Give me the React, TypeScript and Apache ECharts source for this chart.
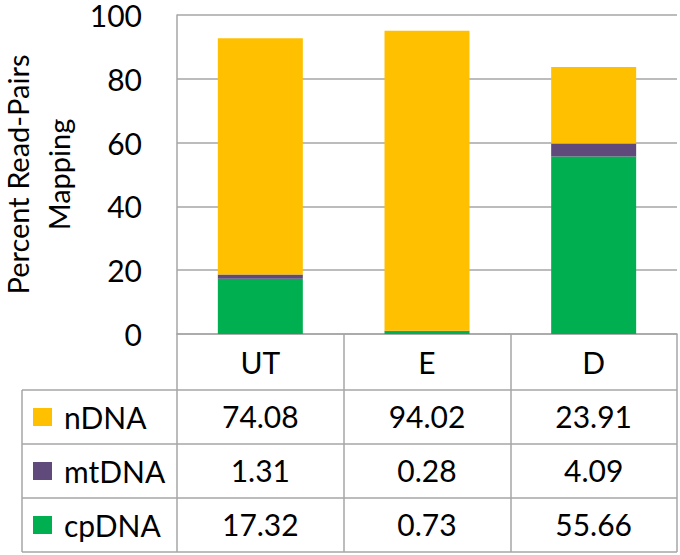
import React, { useEffect, useRef } from "react";
import * as echarts from "echarts";

const categories = ["UT", "E", "D"];
const nDNA = [74.08, 94.02, 23.91];
const mtDNA = [1.31, 0.28, 4.09];
const cpDNA = [17.32, 0.73, 55.66];
const seriesNames = ["nDNA", "mtDNA", "cpDNA"];
const yTicks = { min: 0, max: 100, interval: 20 };
const yTitleLines = ["Percent Read-Pairs", "Mapping"];

const COLORS: Record<string, string> = {
  nDNA: "#FFC000",
  mtDNA: "#604A7B",
  cpDNA: "#00B050",
};

const FONT = "Lato, 'Open Sans', sans-serif";
const GRID = { left: 177, top: 15, width: 500, height: 319 };
const TABLE_LEFT = 22;
const HEADER_H = 56;
const ROW_H = 54;
const LINE_COLOR = "#a6a6a6";

export default function App() {
  const ref = useRef<HTMLDivElement>(null);
  useEffect(() => {
    document.body.style.margin = "0";
    if (!ref.current) return;
    const chart = echarts.init(ref.current, undefined, { renderer: "svg" });
    const bottomY = GRID.top + GRID.height;
    const right = GRID.left + GRID.width;
    const graphics: any[] = [];
    const rowCount = seriesNames.length;
    for (let i = 0; i <= rowCount; i++) {
      const y = bottomY + HEADER_H + i * ROW_H;
      graphics.push({
        type: "line",
        shape: { x1: TABLE_LEFT, y1: y, x2: right, y2: y },
        style: { stroke: LINE_COLOR, lineWidth: 1.5 },
        silent: true,
      });
    }
    graphics.push({
      type: "line",
      shape: {
        x1: TABLE_LEFT,
        y1: bottomY + HEADER_H,
        x2: TABLE_LEFT,
        y2: bottomY + HEADER_H + rowCount * ROW_H,
      },
      style: { stroke: LINE_COLOR, lineWidth: 1.5 },
      silent: true,
    });
    yTitleLines.forEach((t, i) => {
      graphics.push({
        type: "text",
        x: 17 + i * 41,
        y: GRID.top + GRID.height / 2,
        rotation: Math.PI / 2,
        style: {
          text: t,
          align: "center",
          verticalAlign: "middle",
          fontFamily: FONT,
          fontSize: 29,
          fill: "#000",
        },
      });
    });

    const dataFor: Record<string, number[]> = { nDNA, mtDNA, cpDNA };
    const stackOrder = ["cpDNA", "mtDNA", "nDNA"];

    chart.setOption({
      animation: false,
      grid: { ...GRID, containLabel: false },
      legend: {
        data: seriesNames,
        orient: "vertical",
        left: 33,
        top: bottomY + HEADER_H,
        padding: 0,
        itemWidth: 19,
        itemHeight: 18,
        itemGap: 0,
        icon: "rect",
        selectedMode: false,
        textStyle: {
          fontFamily: FONT,
          fontSize: 30,
          color: "#000",
          lineHeight: ROW_H,
          padding: [0, 0, 0, 7],
        },
      },
      xAxis: {
        type: "category",
        data: categories,
        axisLine: { show: true, lineStyle: { color: LINE_COLOR, width: 1.5 } },
        axisTick: {
          show: true,
          alignWithLabel: false,
          length: HEADER_H + rowCount * ROW_H,
          lineStyle: { color: LINE_COLOR, width: 1.5 },
        },
        axisLabel: {
          margin: 1,
          fontFamily: FONT,
          fontSize: 30,
          color: "#000",
          lineHeight: ROW_H,
          formatter: (_v: string, i: number) =>
            [categories[i], nDNA[i], mtDNA[i], cpDNA[i]]
              .map((v) => (typeof v === "number" ? v.toFixed(2) : v))
              .join("\n"),
        },
      },
      yAxis: {
        type: "value",
        ...yTicks,
        axisLine: { show: true, lineStyle: { color: LINE_COLOR, width: 1.5 } },
        axisTick: { show: false },
        splitLine: { show: true, lineStyle: { color: LINE_COLOR, width: 1.5 } },
        axisLabel: {
          margin: 35,
          fontFamily: FONT,
          fontSize: 30,
          lineHeight: 26,
          color: "#000",
        },
      },
      series: stackOrder.map((name) => ({
        name,
        type: "bar",
        stack: "total",
        barWidth: "51%",
        data: dataFor[name],
        itemStyle: { color: COLORS[name] },
      })),
      graphic: graphics,
    });
    return () => chart.dispose();
  }, []);
  return <div ref={ref} style={{ width: 680, height: 555 }} />;
}
